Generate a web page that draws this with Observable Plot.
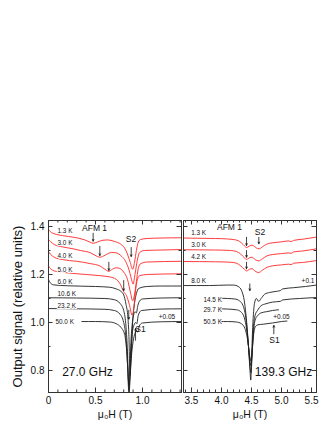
<!DOCTYPE html>
<html><head><meta charset="utf-8">
<script src="https://cdn.jsdelivr.net/npm/d3@7"></script>
<script src="https://cdn.jsdelivr.net/npm/@observablehq/plot@0.6"></script>
<style>
body{margin:0;background:#fff;}
#wrap{position:relative;width:332px;height:430px;overflow:hidden;background:#fff;}
#wrap svg{position:absolute;top:0;}
</style></head><body><div id="wrap"></div>
<script>
// ---------- 27.0 GHz panel: traces [field (T), signal] ----------
const L13 = [[0,1.388],[0.02,1.378],[0.06,1.37],[0.15,1.362],[0.27,1.355],[0.38,1.345],[0.44,1.335],[0.475,1.33],[0.52,1.335],[0.58,1.343],[0.63,1.344],[0.7,1.338],[0.77,1.326],[0.81,1.31],[0.84,1.285],[0.87,1.25],[0.895,1.222],[0.915,1.25],[0.935,1.3],[0.955,1.335],[0.98,1.346],[1.05,1.35],[1.2,1.352],[1.415,1.353]];
const L30 = [[0,1.345],[0.02,1.338],[0.06,1.325],[0.15,1.315],[0.25,1.308],[0.34,1.3],[0.45,1.29],[0.52,1.275],[0.55,1.272],[0.6,1.28],[0.67,1.292],[0.72,1.29],[0.78,1.275],[0.82,1.255],[0.86,1.215],[0.89,1.17],[0.9,1.16],[0.92,1.2],[0.945,1.26],[0.97,1.292],[1.02,1.3],[1.2,1.302],[1.415,1.304]];
const L40 = [[0,1.295],[0.02,1.285],[0.06,1.272],[0.15,1.262],[0.3,1.255],[0.45,1.245],[0.55,1.235],[0.6,1.222],[0.64,1.213],[0.68,1.222],[0.72,1.228],[0.76,1.225],[0.8,1.21],[0.84,1.18],[0.875,1.12],[0.895,1.09],[0.912,1.11],[0.935,1.17],[0.955,1.225],[0.98,1.245],[1.05,1.252],[1.415,1.255]];
const L50 = [[0,1.235],[0.02,1.225],[0.06,1.215],[0.2,1.207],[0.4,1.2],[0.55,1.195],[0.65,1.19],[0.72,1.18],[0.76,1.162],[0.8,1.128],[0.83,1.112],[0.86,1.075],[0.89,1.03],[0.905,1.05],[0.92,1.11],[0.94,1.17],[0.97,1.195],[1.05,1.2],[1.415,1.203]];
const L60 = [[0,1.178],[0.02,1.165],[0.05,1.157],[0.2,1.153],[0.5,1.15],[0.65,1.147],[0.72,1.14],[0.77,1.13],[0.8,1.115],[0.825,1.075],[0.845,1.02],[0.855,0.95],[0.868,0.78],[0.88,0.86],[0.895,1.0],[0.915,1.08],[0.935,1.12],[0.96,1.142],[1.05,1.15],[1.2,1.152],[1.415,1.152]];
const L106 = [[0,1.103],[0.3,1.102],[0.6,1.1],[0.7,1.095],[0.76,1.08],[0.8,1.05],[0.825,0.98],[0.84,0.88],[0.852,0.74],[0.857,0.712],[0.863,0.75],[0.875,0.9],[0.89,0.99],[0.905,1.03],[0.92,1.045],[0.935,1.04],[0.95,1.07],[0.97,1.09],[1.0,1.098],[1.2,1.102],[1.415,1.103]];
const L232 = [[0,1.058],[0.3,1.057],[0.6,1.055],[0.7,1.05],[0.76,1.035],[0.8,1.0],[0.825,0.93],[0.84,0.83],[0.852,0.72],[0.856,0.71],[0.863,0.73],[0.875,0.86],[0.89,0.95],[0.91,0.99],[0.93,1.0],[0.94,0.995],[0.955,1.03],[0.99,1.05],[1.2,1.056],[1.415,1.057]];
const L500 = [[0.355,1.004],[0.5,1.004],[0.65,1.002],[0.72,0.995],[0.77,0.98],[0.81,0.95],[0.83,0.89],[0.845,0.8],[0.855,0.74],[0.865,0.77],[0.88,0.85],[0.9,0.92],[0.92,0.955],[0.935,0.965],[0.95,0.96],[0.965,0.985],[1.0,0.998],[1.2,1.003],[1.415,1.004]];
const tempsL = ["1.3 K","3.0 K","4.0 K","5.0 K","6.0 K","10.6 K","23.2 K","50.0 K"];
const tempLabelFieldL = [0.096,0.096,0.096,0.096,0.096,0.096,0.096,0.074];
const tempLabelValueL = [1.380,1.330,1.276,1.219,1.167,1.117,1.068,1.004];

// ---------- 139.3 GHz panel ----------
const R13 = [[3.367,1.352],[3.6,1.351],[3.9,1.35],[4.1,1.348],[4.22,1.345],[4.3,1.338],[4.36,1.325],[4.4,1.315],[4.42,1.312],[4.46,1.318],[4.51,1.322],[4.56,1.315],[4.6,1.308],[4.63,1.307],[4.68,1.315],[4.75,1.326],[4.85,1.332],[5.0,1.336],[5.12,1.34],[5.16,1.337],[5.2,1.342],[5.35,1.347],[5.583,1.356]];
const R30 = [[3.367,1.303],[3.9,1.302],[4.15,1.3],[4.25,1.296],[4.32,1.285],[4.38,1.27],[4.42,1.263],[4.47,1.27],[4.51,1.272],[4.56,1.262],[4.62,1.257],[4.68,1.265],[4.76,1.278],[4.85,1.283],[5.0,1.287],[5.12,1.29],[5.16,1.288],[5.2,1.294],[5.35,1.298],[5.583,1.307]];
const R42 = [[3.367,1.254],[3.9,1.253],[4.15,1.251],[4.25,1.247],[4.32,1.236],[4.38,1.222],[4.42,1.215],[4.47,1.222],[4.51,1.224],[4.56,1.214],[4.62,1.208],[4.68,1.218],[4.76,1.23],[4.85,1.236],[5.0,1.24],[5.12,1.243],[5.16,1.241],[5.2,1.247],[5.35,1.25],[5.583,1.258]];
const R80 = [[3.367,1.154],[3.8,1.154],[4.1,1.156],[4.2,1.156],[4.28,1.15],[4.34,1.13],[4.38,1.09],[4.42,1.0],[4.45,0.9],[4.475,0.8],[4.488,0.76],[4.5,0.84],[4.52,0.98],[4.55,1.08],[4.58,1.1],[4.62,1.088],[4.66,1.1],[4.72,1.118],[4.8,1.125],[4.92,1.13],[4.98,1.133],[5.02,1.14],[5.2,1.145],[5.4,1.15],[5.583,1.156]];
const R145 = [[3.983,1.101],[4.1,1.1],[4.22,1.098],[4.3,1.09],[4.36,1.07],[4.41,1.01],[4.45,0.9],[4.478,0.81],[4.492,0.79],[4.508,0.85],[4.53,0.97],[4.56,1.03],[4.6,1.05],[4.66,1.07],[4.74,1.078],[4.85,1.085],[4.98,1.088],[5.02,1.094],[5.3,1.1],[5.583,1.104]];
const R297 = [[3.983,1.057],[4.1,1.056],[4.25,1.053],[4.32,1.045],[4.38,1.02],[4.43,0.95],[4.47,0.85],[4.49,0.82],[4.505,0.85],[4.53,0.95],[4.56,1.01],[4.6,1.028],[4.66,1.04],[4.75,1.045],[4.85,1.05],[4.95,1.053]];
const R505 = [[3.967,1.004],[4.1,1.004],[4.25,1.002],[4.33,0.995],[4.39,0.975],[4.44,0.92],[4.47,0.86],[4.49,0.84],[4.505,0.87],[4.53,0.94],[4.56,0.98],[4.6,0.99],[4.7,0.993],[4.85,0.998],[5.0,1.004],[5.09,1.006]];
const tempsR = ["1.3 K","3.0 K","4.2 K","8.0 K","14.5 K","29.7 K","50.5 K"];
const tempLabelFieldR = [3.495,3.495,3.495,3.495,3.70,3.70,3.70];
const tempLabelValueR = [1.372,1.325,1.275,1.175,1.096,1.053,1.004];

// arrows: [field, from, to]
const arrowsL = [[0.475,1.372,1.339],[0.546,1.317,1.279],[0.642,1.251,1.217],[0.80,1.175,1.133],[0.88,1.3125,1.275],[0.854,1.051,1.014],[0.926,0.926,0.975]];
const arrowsR = [[4.417,1.355,1.321],[4.417,1.30,1.272],[4.417,1.251,1.224],[4.622,1.355,1.328],[4.472,1.161,1.133],[4.872,0.953,0.9875]];
// annotations: [text, field, value, size]
const notesL = [["AFM 1",0.49,1.393,8.5],["S2",0.877,1.346,8.5],["S1",0.979,0.973,8.5],["+0.05",1.26,1.025,6.5],["27.0 GHz",0.415,0.793,12]];
const notesR = [["AFM 1",4.133,1.395,8.5],["S2",4.642,1.376,8.5],["S1",4.883,0.925,8.5],["+0.1",5.442,1.175,6.5],["+0.05",5.0,1.022,6.5],["139.3 GHz",5.033,0.793,12]];

const xTicksL = d3.range(0, 1.41, 0.1).map(v => +v.toFixed(2));
const xMajorL = [0, 0.5, 1.0];
const xTicksR = d3.range(3.4, 5.55, 0.1).map(v => +v.toFixed(2));
const xMajorR = [3.5, 4.0, 4.5, 5.0, 5.5];
const yTicks = [0.8, 0.9, 1.0, 1.1, 1.2, 1.3, 1.4];
const yMajor = [0.8, 1.0, 1.2, 1.4];

const RED = "#ff2626", BLACK = "#1e1e1e", FONT = "Liberation Sans, Arial, Helvetica, sans-serif";
const YDOM = [0.7083, 1.425];
const FH = 172, FW = 133;

function rows(traces, names, nRed) {
  return traces.flatMap((t, i) => t.map(([f, v]) => ({f, v, s: names[i], red: i < nRed})));
}

function tickMarks(xt, xm, yt, ym) {
  const xs = xt.filter(v => !xm.includes(v)), ys = yt.filter(v => !ym.includes(v));
  return [
    Plot.tickX(xs, {x: d => d, insetTop: FH - 2.5, stroke: "#333"}),
    Plot.tickX(xm, {x: d => d, insetTop: FH - 4.5, stroke: "#333"}),
    Plot.tickX(xs, {x: d => d, insetBottom: FH - 2.5, stroke: "#333"}),
    Plot.tickX(xm, {x: d => d, insetBottom: FH - 4.5, stroke: "#333"}),
    Plot.tickY(ys, {y: d => d, insetRight: FW - 2.5, stroke: "#333"}),
    Plot.tickY(ym, {y: d => d, insetRight: FW - 4.5, stroke: "#333"}),
    Plot.tickY(ys, {y: d => d, insetLeft: FW - 2.5, stroke: "#333"}),
    Plot.tickY(ym, {y: d => d, insetLeft: FW - 4.5, stroke: "#333"})
  ];
}

function panel({traces, names, nRed, lf, lv, arrows, notes, xdom, xt, xm, width, ml, mr, left, fmt}) {
  const data = rows(traces, names, nRed);
  const marks = [
    Plot.line(data.filter(d => !d.red), {x: "f", y: "v", z: "s", stroke: BLACK, strokeWidth: 0.9, curve: "monotone-x"}),
    Plot.line(data.filter(d => d.red), {x: "f", y: "v", z: "s", stroke: RED, strokeWidth: 0.9, curve: "monotone-x"}),
    Plot.text(names, {x: (d, i) => lf[i], y: (d, i) => lv[i], text: d => d, textAnchor: "start", fontSize: 6.4, fill: "#111", stroke: "white", strokeWidth: 2}),
    Plot.arrow(arrows, {x1: d => d[0], y1: d => d[1], x2: d => d[0], y2: d => d[2], stroke: "#111", strokeWidth: 0.8, headLength: 3.5, headAngle: 50}),
    Plot.text(notes, {x: d => d[1], y: d => d[2], text: d => d[0], fontSize: d => d[3], fill: "#111"}),
    Plot.frame({stroke: "#333", strokeWidth: 1}),
    ...tickMarks(xt, xm, yTicks, yMajor),
    Plot.axisX(xm, {tickSize: 0, tickPadding: 4, fontSize: 10, tickFormat: fmt, label: null, fill: "#111"}),
    Plot.text(["μ₀H (T)"], {frameAnchor: "bottom", dy: 25, fontSize: 10.5, fill: "#111"})
  ];
  if (left) {
    marks.push(Plot.axisY(yMajor, {tickSize: 0, tickPadding: 4, fontSize: 10, tickFormat: d => d.toFixed(1), label: null, fill: "#111"}));
    marks.push(Plot.text(["Output signal (relative units)"], {y: () => (YDOM[0] + YDOM[1]) / 2, frameAnchor: "left", textAnchor: "middle", rotate: -90, dx: -31, fontSize: 13, fill: "#111"}));
  }
  return Plot.plot({
    width, height: 430, marginLeft: ml, marginRight: mr, marginTop: 220, marginBottom: 38,
    x: {domain: xdom, axis: null}, y: {domain: YDOM, axis: null},
    style: {background: "none", fontFamily: FONT, overflow: "visible"},
    marks
  });
}

const wrap = document.getElementById("wrap");
const p1 = panel({traces: [L13, L30, L40, L50, L60, L106, L232, L500], names: tempsL, nRed: 4, lf: tempLabelFieldL, lv: tempLabelValueL,
  arrows: arrowsL, notes: notesL, xdom: [0, 1.415], xt: xTicksL, xm: xMajorL, width: 183, ml: 48, mr: 2, left: true,
  fmt: d => d === 0 ? "0" : d.toFixed(1)});
p1.style.left = "0px";
const p2 = panel({traces: [R13, R30, R42, R80, R145, R297, R505], names: tempsR, nRed: 3, lf: tempLabelFieldR, lv: tempLabelValueR,
  arrows: arrowsR, notes: notesR, xdom: [3.367, 5.583], xt: xTicksR, xm: xMajorR, width: 157, ml: 8, mr: 16, left: false,
  fmt: d => d.toFixed(1)});
p2.style.left = "175px";
wrap.appendChild(p1);
wrap.appendChild(p2);
</script>
</body></html>
